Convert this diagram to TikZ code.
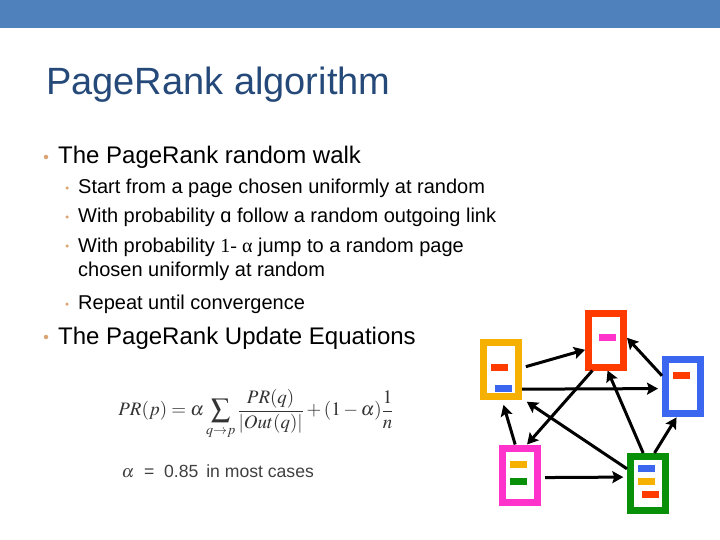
\documentclass[tikz,border=0pt]{standalone}
\usepackage{mathptmx}
\usepackage{fontspec}
\setmainfont{Liberation Sans}
\newfontfamily\serifalpha{Liberation Serif}
\usetikzlibrary{arrows.meta}
\definecolor{headblue}{HTML}{4F81BD}
\definecolor{titleblue}{HTML}{254A7A}
\definecolor{bullettan}{HTML}{DCA473}
\definecolor{pageyellow}{HTML}{F5B000}
\definecolor{pagered}{HTML}{FF3B00}
\definecolor{pageblue}{HTML}{3B66F0}
\definecolor{pagepink}{HTML}{FF33CC}
\definecolor{pagegreen}{HTML}{089108}
\tikzset{
  page/.style={draw=#1,line width=7pt,fill=white,minimum width=35pt,minimum height=54pt,inner sep=0pt},
  tag/.style={fill=#1,minimum width=17pt,minimum height=7pt,inner sep=0pt},
  link/.style={-{Stealth[length=11pt,width=12pt,inset=2pt]},line width=3pt,black},
  lineone/.style={anchor=base west,inner sep=0pt,font=\fontsize{24}{24}\selectfont},
  linetwo/.style={anchor=base west,inner sep=0pt,font=\fontsize{20}{20}\selectfont},
  dotone/.style={circle,fill=bullettan,minimum size=4.5pt,inner sep=0pt},
  dottwo/.style={circle,fill=bullettan,minimum size=3.5pt,inner sep=0pt},
}
\begin{document}
\begin{tikzpicture}[x=1pt,y=-1pt]
  \useasboundingbox (0,0) rectangle (720,540);
  \fill[headblue] (0,0) rectangle (720,28);
  \node[anchor=base west,inner sep=0pt,text=titleblue,font=\fontsize{38}{38}\selectfont] (title) at (46,95) {PageRank algorithm};
  % text
  \node[dotone] (d1) at (46,157) {};
  \node[lineone] (t1) at (58,164) {The PageRank random walk};
  \node[dottwo] (d2) at (67,188) {};
  \node[linetwo] (t2) at (78,194) {Start from a page chosen uniformly at random};
  \node[dottwo] (d3) at (67,217) {};
  \node[linetwo] (t3) at (78,222.5) {With probability ɑ follow a random outgoing link};
  \node[dottwo] (d4) at (67,246) {};
  \node[linetwo] (t4) at (78,252) {With probability {\serifalpha 1- α} jump to a random page};
  \node[linetwo] (t5) at (78,276) {chosen uniformly at random};
  \node[dottwo] (d5) at (67,304) {};
  \node[linetwo] (t6) at (78,309.5) {Repeat until convergence};
  \node[dotone] (d6) at (46,337) {};
  \node[lineone] (t7) at (58,344) {The PageRank Update Equations};
  % formula
  \node[inner sep=0pt,text=black!80,font=\fontsize{19}{19}\selectfont] (formula) at (256,414)
    {$\displaystyle PR(p)=\alpha\sum_{q\to p}\frac{PR(q)}{|Out(q)|}+(1-\alpha)\frac{1}{n}$};
  \node[anchor=base west,inner sep=0pt,text=black!75,font=\fontsize{17.6}{18}\selectfont] (alphaline) at (121.5,477)
    {$\alpha$\hspace{2pt} \,=\,\hspace{2pt} 0.85\, in most cases};
  % pages
  \node[page=pageyellow] (yellow) at (501,369.6) {};
  \node[page=pagered] (red) at (606,340) {};
  \node[page=pageblue] (blue) at (683,386) {};
  \node[page=pagepink] (pink) at (520,475) {};
  \node[page=pagegreen] (green) at (648,483.5) {};
  \node[tag=pagered] (y1) at (499,367.3) {};
  \node[tag=pageblue] (y2) at (503,388.5) {};
  \node[tag=pagepink] (r1) at (607.5,337.5) {};
  \node[tag=pagered] (b1) at (681,375.5) {};
  \node[tag=pageyellow] (p1) at (518.5,464.5) {};
  \node[tag=pagegreen] (p2) at (518.5,481.5) {};
  \node[tag=pageblue] (g1) at (646.5,468.5) {};
  \node[tag=pageyellow] (g2) at (646.5,481.5) {};
  \node[tag=pagered] (g3) at (650,494.5) {};
  % links
  \draw[link,shorten <=4pt] (yellow.5) -- (red.205.5);
  \draw[link,shorten >=4pt] (yellow.317.7) -- (blue.187.3);
  \draw[link] (red.246.2) -- (pink.77.8);
  \draw[link] (blue.154.5) -- (red.6.2);
  \draw[link] (green.99.9) -- (red.273);
  \draw[link,shorten >=1pt] (green.78.3) -- (blue.259.6);
  \draw[link,shorten >=5.7pt] (green.145.4) -- (yellow.306);
  \draw[link,shorten >=5pt] (pink.99.2) -- (yellow.272.4);
  \draw[link,shorten <=4pt,shorten >=3.7pt] (pink.353.8) -- (green.163.5);
\end{tikzpicture}
\end{document}
